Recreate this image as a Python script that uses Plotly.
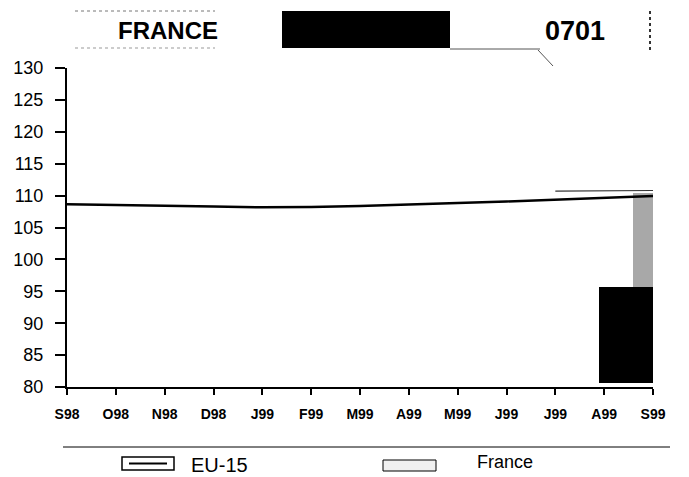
import plotly.graph_objects as go

# Monthly index values
months = ["S98", "O98", "N98", "D98", "J99", "F99", "M99", "A99",
          "M99", "J99", "J99", "A99", "S99"]
month_pos = list(range(len(months)))
eu15 = [108.64, 108.56, 108.45, 108.3, 108.17, 108.2, 108.37, 108.56,
        108.84, 109.08, 109.4, 109.7, 109.94]
france = [None] * 10 + [110.7, 110.75, 110.8]

# dark scan blotch in the lower right corner (bar centre, top, base)
blotch_x = [11.45]
blotch_top = [95.6]
blotch_base = [80.6]
haze_x = [11.8]
haze_top = [110.4]
haze_base = [80.6]

yticks = list(range(80, 131, 5))

PW, PH = 586, 319  # plot area in px
def px(x):
    return (x - 67) / PW
def py(y):
    return (387 - y) / PH

fig = go.Figure()

fig.add_trace(go.Bar(x=haze_x, y=[t - b for t, b in zip(haze_top, haze_base)],
                     base=haze_base, width=0.4, marker=dict(color="#a8a8a8", line=dict(width=0)),
                     showlegend=False, hoverinfo="skip"))
fig.add_trace(go.Bar(x=blotch_x, y=[t - b for t, b in zip(blotch_top, blotch_base)],
                     base=blotch_base, width=1.1, marker=dict(color="black", line=dict(width=0)),
                     showlegend=False, hoverinfo="skip"))

fig.add_trace(go.Scatter(x=month_pos, y=eu15, mode="lines",
                         line=dict(color="black", width=2.5), name="EU-15", showlegend=False))
fig.add_trace(go.Scatter(x=month_pos, y=france, mode="lines",
                         line=dict(color="#333", width=1.2), name="France", showlegend=False))

fig.update_layout(
    width=689, height=477,
    margin=dict(l=67, r=36, t=68, b=90),
    paper_bgcolor="white", plot_bgcolor="white",
    font=dict(family="Liberation Sans, Arial", color="black"),
    bargap=0,
)
fig.update_xaxes(range=[0, 12], tickvals=month_pos, ticktext=["<b>%s</b>" % m for m in months],
                 ticks="outside", ticklen=6, tickwidth=1.5, tickcolor="black",
                 ticklabelstandoff=7,
                 showline=True, linecolor="black", linewidth=2, showgrid=False,
                 zeroline=False, tickfont=dict(size=14, family="Liberation Sans, Arial"))
fig.update_yaxes(range=[80, 130], tickvals=yticks, ticks="outside", ticklen=10,
                 tickwidth=1.5, tickcolor="black", showline=True, linecolor="black",
                 ticklabelstandoff=8,
                 linewidth=2, showgrid=False, zeroline=False,
                 tickfont=dict(size=18, family="Liberation Sans, Arial"))

# header strip
fig.add_shape(type="rect", xref="paper", yref="paper", x0=px(282), x1=px(450),
              y0=py(48), y1=py(11), fillcolor="black", line=dict(width=0))
fig.add_shape(type="line", xref="paper", yref="paper", x0=px(75), x1=px(215),
              y0=py(11), y1=py(11), line=dict(color="#777", width=1, dash="dot"))
fig.add_shape(type="line", xref="paper", yref="paper", x0=px(75), x1=px(215),
              y0=py(48), y1=py(48), line=dict(color="#999", width=1, dash="dot"))
fig.add_shape(type="line", xref="paper", yref="paper", x0=px(450), x1=px(540),
              y0=py(49), y1=py(49), line=dict(color="#555", width=1))
fig.add_shape(type="line", xref="paper", yref="paper", x0=px(538), x1=px(553),
              y0=py(50), y1=py(66), line=dict(color="#555", width=1))
fig.add_shape(type="line", xref="paper", yref="paper", x0=px(650), x1=px(650),
              y0=py(50), y1=py(10), line=dict(color="#333", width=2, dash="dot"))
fig.add_annotation(text="<b>FRANCE</b>", xref="paper", yref="paper",
                   x=px(168), y=py(30), xanchor="center", yanchor="middle", showarrow=False,
                   font=dict(size=24, family="Liberation Sans, Arial"))
fig.add_annotation(text="<b>0701</b>", xref="paper", yref="paper",
                   x=px(575), y=py(31), xanchor="center", yanchor="middle", showarrow=False,
                   font=dict(size=27, family="Liberation Sans, Arial"))

# footer rule and hand-drawn legend
fig.add_shape(type="line", xref="paper", yref="paper", x0=px(63), x1=px(670),
              y0=py(447), y1=py(447), line=dict(color="black", width=1))
fig.add_shape(type="rect", xref="paper", yref="paper", x0=px(122), x1=px(174),
              y0=py(470), y1=py(457), fillcolor="white", line=dict(color="black", width=1.5))
fig.add_shape(type="line", xref="paper", yref="paper", x0=px(129), x1=px(167),
              y0=py(463.5), y1=py(463.5), line=dict(color="black", width=2))
fig.add_shape(type="rect", xref="paper", yref="paper", x0=px(383), x1=px(436),
              y0=py(471), y1=py(460), fillcolor="#f0f0f0", line=dict(color="black", width=1))
fig.add_annotation(text="EU-15", xref="paper", yref="paper", xanchor="left", yanchor="middle",
                   x=px(189), y=py(465), showarrow=False,
                   font=dict(size=20, family="Liberation Sans, Arial"))
fig.add_annotation(text="France", xref="paper", yref="paper", xanchor="left", yanchor="middle",
                   x=px(475), y=py(462), showarrow=False,
                   font=dict(size=18, family="Liberation Sans, Arial"))

# the page's default 8px body margin would shift the whole figure
fig.write_html("out.html", config={"displayModeBar": False},
               post_script="document.body.style.margin='0';")
